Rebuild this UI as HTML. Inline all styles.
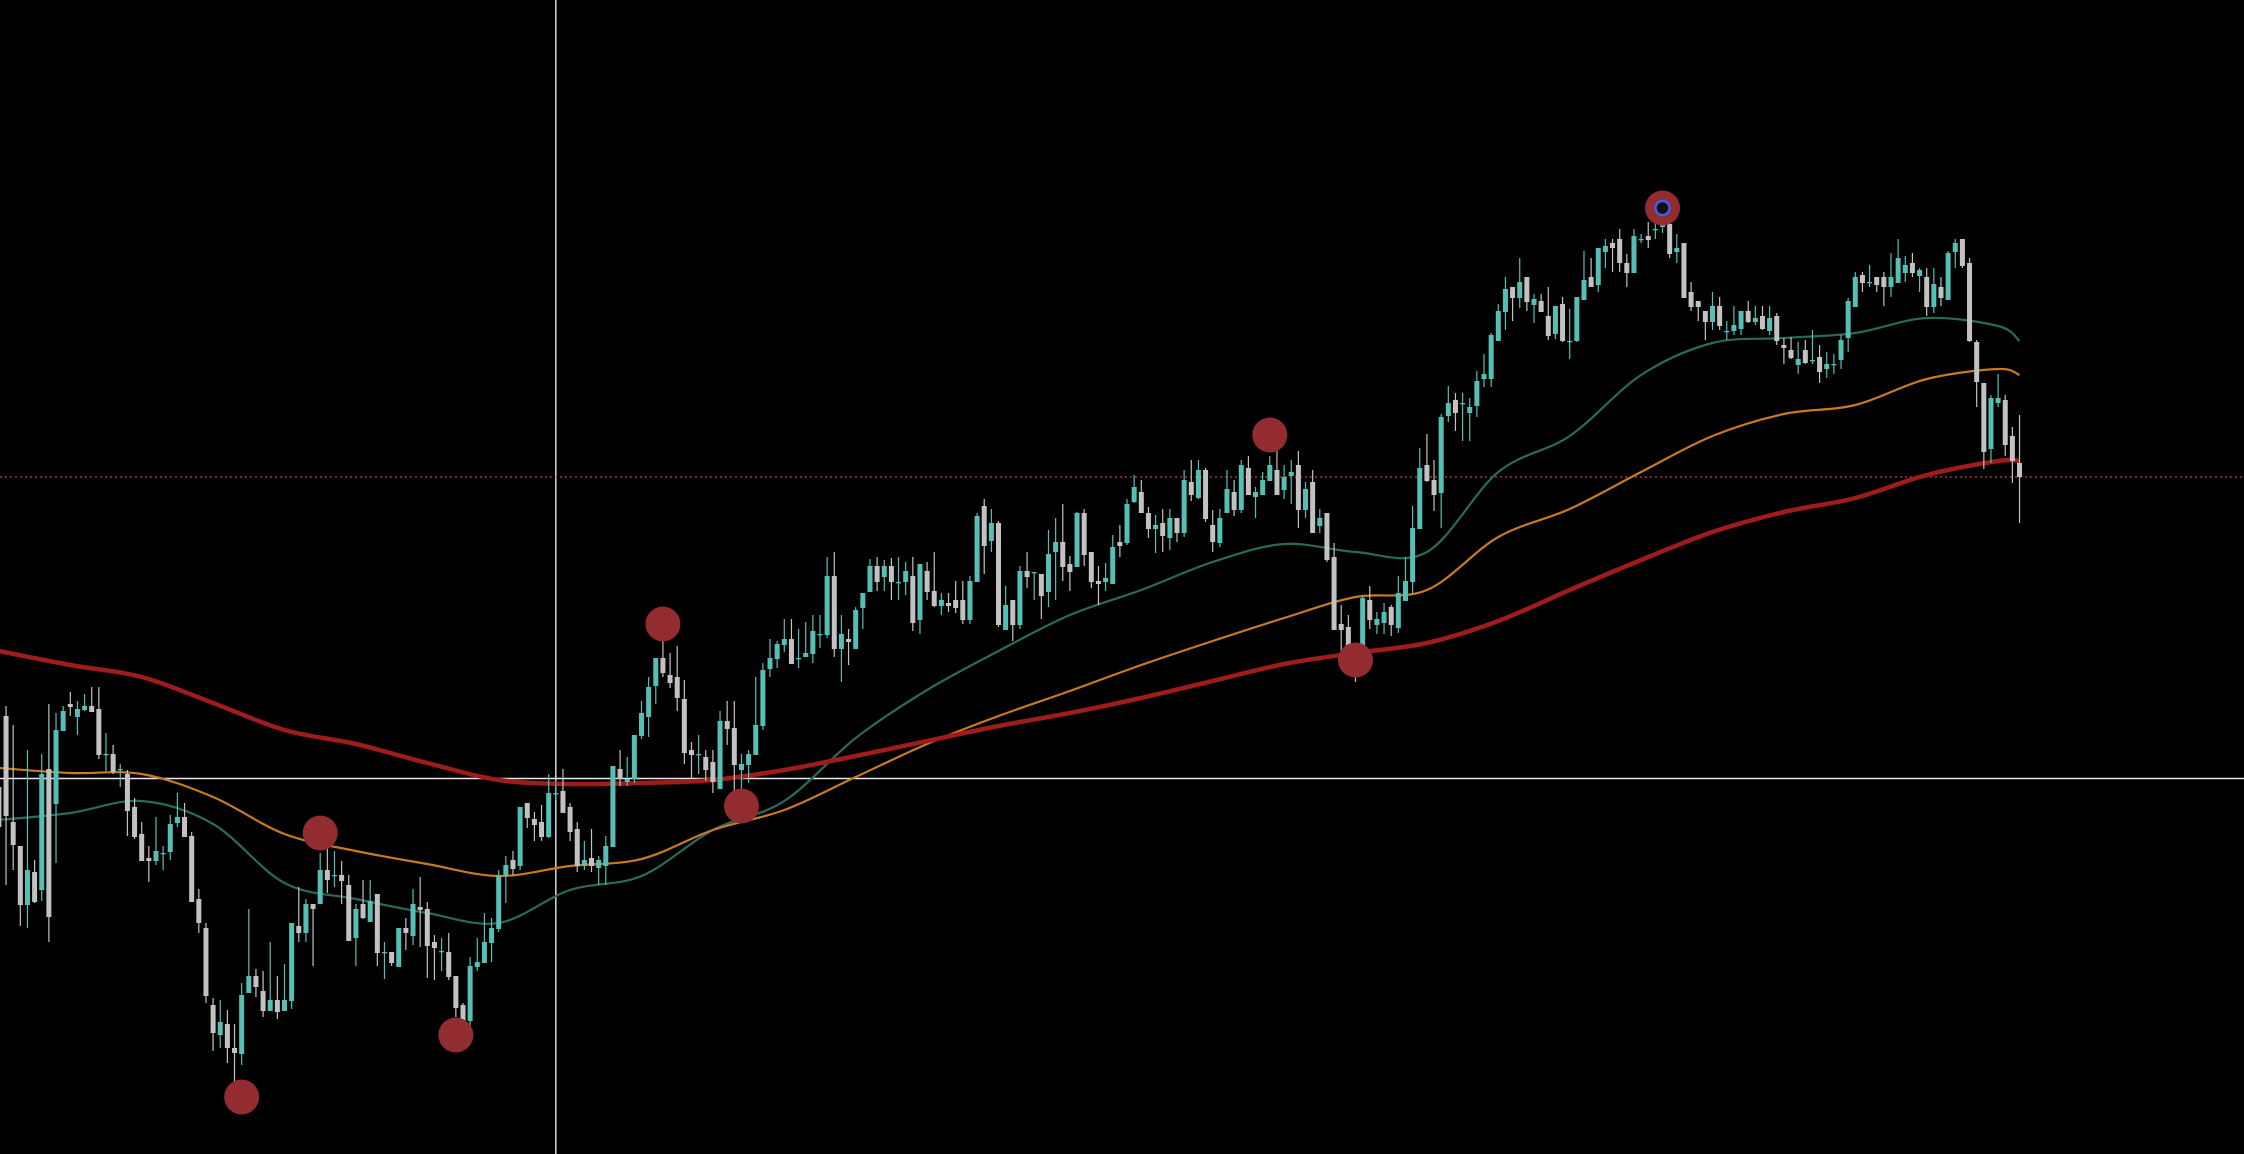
<!DOCTYPE html>
<html><head><meta charset="utf-8"><title>Candlestick chart</title>
<style>
html,body{margin:0;padding:0;background:#000;overflow:hidden}
svg{display:block}
</style></head>
<body>
<svg id="chart" width="2244" height="1154" viewBox="0 0 2244 1154" xmlns="http://www.w3.org/2000/svg">
<rect x="0" y="0" width="2244" height="1154" fill="#000"/>
<g id="lines"></g>
<g id="mas"></g>
<g id="candles"></g>
<g id="markers"></g>
</svg>
<script>
const opens=[413,484,378,354,295,328,310,431,396,469,496,483,490,494,491,445,446,431,426,393,366,342,339,347,348,377,383,364,301,272,195,165,176,152,146,207,224,209,189,200,189,199,274,267,296,296,330,325,325,315,262,296,278,306,248,248,233,272,264,293,291,258,249,248,224,195,179,233,237,257,271,324,340,334,397,381,378,363,407,409,393,371,334,342,332,334,353,431,418,421,464,483,514,542,525,523,501,450,446,443,438,411,479,472,430,435,445,474,531,541,555,561,542,543,546,566,565,624,551,561,551,592,608,634,623,634,618,618,624,580,629,609,594,597,600,600,580,618,694,659,677,570,600,575,629,628,626,608,648,658,636,633,687,648,619,618,616,658,657,698,708,687,671,677,662,682,667,718,702,730,675,657,687,708,690,732,703,705,719,730,710,724,735,690,718,674,687,643,576,573,554,541,600,575,577,593,572,599,618,671,735,720,707,784,800,797,787,794,821,821,859,888,913,902,923,895,899,884,866,896,859,859,900,923,915,948,957,961,937,927,961,964,971,973,976,948,957,908,899,889,878,894,869,869,871,889,878,884,869,884,855,850,835,850,840,843,831,836,840,862,893,925,918,923,923,913,917,927,937,924,923,893,913,900,948,961,937,858,817,751,797,800,764,737];
const highs=[467,494,475,354,450,340,446,496,487,494,508,499,506,513,513,467,455,436,430,402,378,354,383,354,385,407,397,368,311,277,202,200,190,176,217,291,231,229,258,224,236,277,313,301,296,347,356,349,339,325,296,320,320,306,258,248,272,282,311,323,298,265,262,267,224,197,243,262,287,282,330,344,349,393,397,388,395,426,420,431,397,378,359,371,344,364,434,450,443,465,499,523,542,567,547,554,520,458,465,450,450,489,499,499,446,450,523,537,561,559,581,581,571,578,585,585,643,648,585,571,593,607,641,643,640,642,643,638,643,636,638,648,607,607,619,619,624,687,701,691,679,614,600,634,648,628,626,670,682,696,644,688,691,648,634,637,665,675,701,725,720,693,685,691,691,682,730,740,740,732,690,691,730,720,740,744,713,728,744,754,735,740,749,718,730,691,687,657,595,585,557,605,614,588,597,595,624,643,694,752,766,740,786,814,807,807,802,829,846,867,896,923,913,942,923,906,906,913,894,903,891,903,949,942,952,961,961,971,946,971,966,978,978,982,981,966,957,918,899,889,908,903,879,894,889,899,894,894,894,887,862,863,858,860,870,855,848,846,865,902,928,928,935,923,928,947,961,944,947,932,932,932,923,949,961,961,942,860,817,805,826,805,773,785];
const lows=[360,315,330,274,272,297,299,258,337,469,484,465,489,488,441,429,426,413,364,361,339,318,335,330,340,373,363,298,267,197,149,152,137,108,135,207,203,183,189,181,189,191,258,258,234,296,307,313,296,259,234,281,278,234,221,234,233,250,255,253,222,220,229,220,183,167,172,229,237,238,268,297,325,330,372,359,359,362,400,387,359,328,330,328,315,315,353,414,414,417,461,463,496,523,512,489,436,421,426,419,407,411,455,407,397,417,445,470,523,532,548,536,532,543,537,552,562,543,518,535,551,571,608,609,609,600,600,605,569,566,600,593,585,588,587,576,576,618,626,648,573,570,559,571,612,600,581,593,600,619,609,633,634,612,595,609,616,643,655,697,687,662,647,648,650,658,663,699,701,678,648,653,687,684,687,705,682,705,719,705,701,696,672,682,667,667,638,570,544,537,518,528,571,566,566,564,567,599,605,671,718,689,672,778,769,759,759,783,813,813,859,870,879,892,889,877,888,860,861,858,841,858,900,913,908,932,928,928,913,927,957,952,961,967,942,937,902,889,879,860,870,870,860,865,865,877,875,870,865,855,836,841,826,836,836,817,822,826,831,848,893,908,913,908,894,903,917,918,923,908,884,887,894,900,932,932,858,793,731,737,793,744,717,677];
const closes=[373,384,355,295,330,298,426,283,470,489,493,491,494,488,445,446,428,431,389,363,339,339,349,347,376,383,363,298,277,204,167,178,152,147,205,224,213,189,200,188,200,277,267,296,291,330,320,325,319,259,291,282,299,247,248,237,272,267,296,290,254,252,249,223,192,170,234,238,258,272,325,335,331,393,382,375,363,407,407,387,368,334,340,334,340,354,434,421,421,465,487,513,542,527,517,502,447,445,446,430,418,479,471,435,436,446,475,530,542,556,561,536,542,547,569,566,624,551,566,558,590,607,634,618,634,618,618,629,577,636,608,594,600,594,592,580,619,684,654,677,575,595,575,629,623,628,604,646,658,633,628,687,645,618,616,622,653,654,696,713,687,671,675,664,682,667,720,705,730,681,658,682,711,690,735,705,708,720,735,705,723,728,690,711,667,682,640,570,570,551,541,602,580,581,588,575,607,619,672,732,719,705,783,797,787,797,793,819,826,865,889,911,902,918,898,901,888,864,894,859,859,903,920,913,952,954,952,937,927,964,961,960,971,976,946,952,902,893,893,878,894,874,869,875,889,878,882,871,882,859,852,842,841,837,840,828,836,836,860,899,923,917,918,915,913,923,942,935,927,930,893,916,902,947,957,934,859,818,748,802,802,755,739,723];
const maIdx=[0,10,20,30,40,50,60,70,80,90,100,110,120,130,140,150,160,170,180,190,200,210,220,230,240,250,260,270,280,283];
const maSlow=[549,535,523,497,470,456,437,420,416,417,420,430,444,459,474,487,502,519,536,547,557,579,610,640,668,688,702,725,739,739];
const maMid=[432,427,426,403,366,349,336,324,334,341,370,390,423,456,484,509,535,559,582,603,610,663,691,728,764,786,795,821,831,825];
const maFast=[380,387,399,376,317,301,287,277,310,324,370,399,462,510,549,585,610,638,656,648,648,728,764,825,857,862,867,882,874,859];
const markerIdx=[34,45,64,93,104,178,190,233];
const markerPrice=[103,367,165,576,394,765,540,992];
const hLinePrice=422;
const vLineIdx=78;
const lastPrice=723;

const NS="http://www.w3.org/2000/svg";
const X0=-1.1, STEP=7.14, PTOP=1200;
function xAt(i){return X0+STEP*i;}
function yAt(p){return PTOP-p;}
function mk(tag,attrs,parent){const e=document.createElementNS(NS,tag);for(const k in attrs)e.setAttribute(k,attrs[k]);parent.appendChild(e);return e;}

const gLines=document.getElementById('lines');
let hl=mk('line',{x1:0,x2:2244,y1:yAt(hLinePrice)+0.5,y2:yAt(hLinePrice)+0.5,stroke:'#e8e8e8','stroke-width':1.4},gLines);


let vl=mk('line',{x1:xAt(vLineIdx),x2:xAt(vLineIdx),y1:0,y2:1154,stroke:'#e8e8e8','stroke-width':1.4},gLines);


let pl=mk('line',{x1:0,x2:2244,y1:yAt(lastPrice),y2:yAt(lastPrice),stroke:'#c8404c','stroke-width':1.2,'stroke-dasharray':'2 3'},gLines);



function smoothPath(idx,vals){
  const pts=idx.map((i,k)=>[xAt(i),yAt(vals[k])]);
  let d='M'+pts[0][0]+','+pts[0][1];
  for(let k=0;k<pts.length-1;k++){
    const p0=pts[Math.max(0,k-1)],p1=pts[k],p2=pts[k+1],p3=pts[Math.min(pts.length-1,k+2)];
    const c1=[p1[0]+(p2[0]-p0[0])/6,p1[1]+(p2[1]-p0[1])/6];
    const c2=[p2[0]-(p3[0]-p1[0])/6,p2[1]-(p3[1]-p1[1])/6];
    d+=' C'+c1.join(',')+' '+c2.join(',')+' '+p2.join(',');
  }
  return d;
}
const gMa=document.getElementById('mas');
let m1=mk('path',{d:smoothPath(maIdx,maFast),fill:'none',stroke:'#2b6a5a','stroke-width':2.2},gMa);


let m2=mk('path',{d:smoothPath(maIdx,maMid),fill:'none',stroke:'#c77a22','stroke-width':2.2},gMa);


let m3=mk('path',{d:smoothPath(maIdx,maSlow),fill:'none',stroke:'#9e1c1c','stroke-width':4.5},gMa);



const gC=document.getElementById('candles');
for(let i=0;i<closes.length;i++){
  const up=closes[i]>=opens[i];
  const col=up?'#55bfb6':'#c2c2c2';
  const x=xAt(i);
  const g=mk('g',{},gC);
  
  
  mk('line',{x1:x,x2:x,y1:yAt(highs[i]),y2:yAt(lows[i]),stroke:col,'stroke-width':1.2},g);
  const top=yAt(Math.max(opens[i],closes[i])),bot=yAt(Math.min(opens[i],closes[i]));
  mk('rect',{x:x-2.5,y:top,width:5,height:Math.max(1.3,bot-top),fill:col},g);
}

const gM=document.getElementById('markers');
for(let k=0;k<markerIdx.length;k++){
  const c=mk('circle',{cx:xAt(markerIdx[k]),cy:yAt(markerPrice[k]),r:17.5,fill:'#922c31'},gM);
  
  
}
const lastK=markerIdx.length-1;
let ring=mk('circle',{cx:xAt(markerIdx[lastK]),cy:yAt(markerPrice[lastK]),r:7,fill:'#111','stroke':'#3a62f0','stroke-width':2.4},gM);


</script>
</body></html>
